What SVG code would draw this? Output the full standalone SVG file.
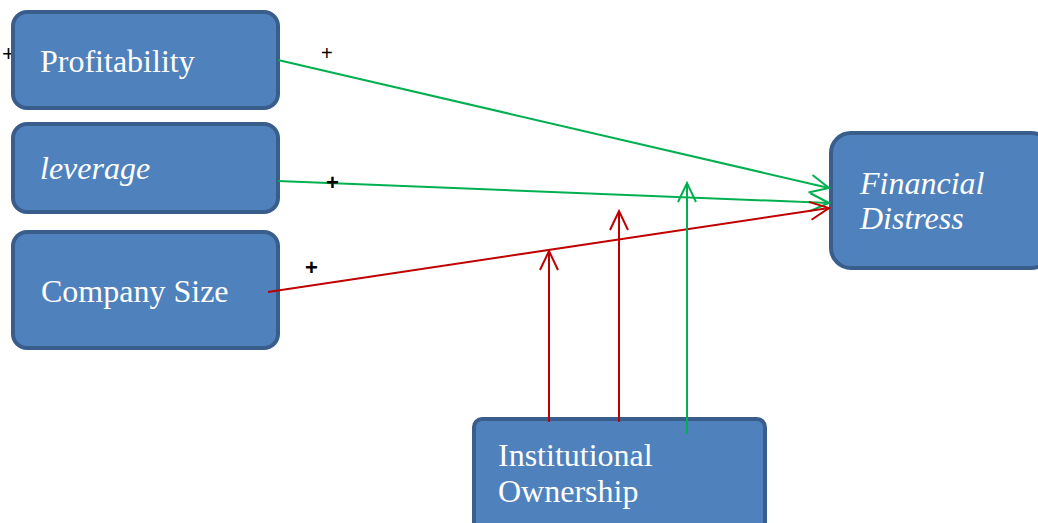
<svg xmlns="http://www.w3.org/2000/svg" width="1038" height="523" viewBox="0 0 1038 523">
<style>
.box{fill:#4f81bd;stroke:#3a5e8c;stroke-width:4}
.t{font-family:"Liberation Serif",serif;font-size:32px;fill:#ffffff}
.i{font-style:italic}
.g{stroke:#00b050;stroke-width:2;fill:none}
.r{stroke:#c00000;stroke-width:2;fill:none}
.p{font-family:"Liberation Sans",sans-serif;fill:#000}
</style>
<defs>
<marker id="ag" markerWidth="24" markerHeight="24" refX="20" refY="10" orient="auto" markerUnits="userSpaceOnUse" viewBox="0 0 24 24">
<path d="M1,1 L20,10 L1,19" fill="none" stroke="#00b050" stroke-width="2"/>
</marker>
<marker id="ar" markerWidth="24" markerHeight="24" refX="20" refY="10" orient="auto" markerUnits="userSpaceOnUse" viewBox="0 0 24 24">
<path d="M1,1 L20,10 L1,19" fill="none" stroke="#c00000" stroke-width="2"/>
</marker>
</defs>
<text class="p" x="2" y="61" font-size="22">+</text>
<g id="profitability"><rect class="box" x="13" y="12" width="265" height="96" rx="14"/><text class="t" x="40" y="72">Profitability</text></g>
<g id="leverage"><rect class="box" x="13" y="124" width="265" height="88" rx="14"/><text class="t i" x="40" y="179">leverage</text></g>
<g id="company-size"><rect class="box" x="13" y="232" width="265" height="116" rx="14"/><text class="t" x="41" y="302">Company Size</text></g>
<g id="financial-distress"><rect class="box" x="831" y="133" width="220" height="135" rx="20"/><text class="t i" x="860" y="194">Financial</text><text class="t i" x="860" y="229">Distress</text></g>
<g id="institutional-ownership"><rect class="box" x="474" y="419" width="291" height="120" rx="8"/><text class="t" x="498" y="466">Institutional</text><text class="t" x="498" y="502">Ownership</text></g>
<g id="connectors">
<line class="g" x1="278" y1="60" x2="829" y2="188" marker-end="url(#ag)"/>
<line class="g" x1="278" y1="181" x2="829" y2="203" marker-end="url(#ag)"/>
<line class="r" x1="268" y1="292" x2="829" y2="208" marker-end="url(#ar)"/>
<line class="r" x1="549" y1="422" x2="549" y2="251" marker-end="url(#ar)"/>
<line class="r" x1="619" y1="422" x2="619" y2="211" marker-end="url(#ar)"/>
<line class="g" x1="687" y1="434" x2="687" y2="183" marker-end="url(#ag)"/>
</g>
<g id="labels">
<text class="p" x="321" y="60" font-size="20">+</text>
<text class="p" x="326" y="190" font-size="22" font-weight="bold">+</text>
<text class="p" x="305" y="275" font-size="22" font-weight="bold">+</text>
</g>
</svg>
